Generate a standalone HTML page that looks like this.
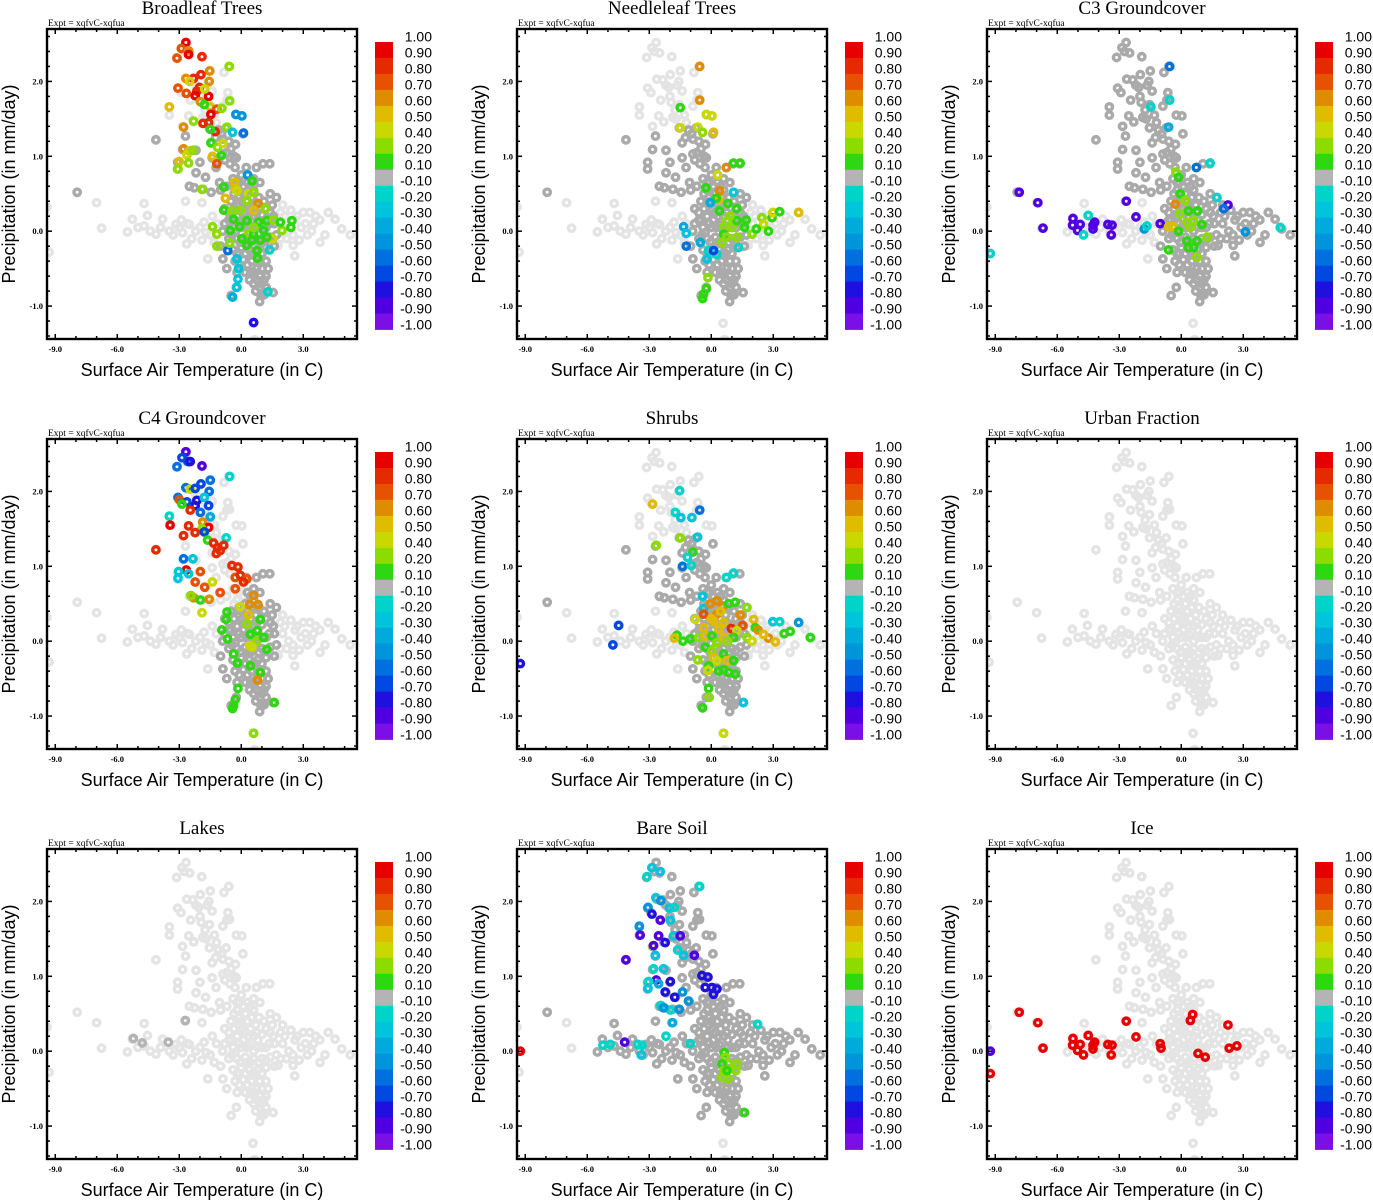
<!DOCTYPE html>
<html><head><meta charset="utf-8">
<style>
html,body{margin:0;padding:0;background:#fff;}
svg{display:block;}
</style></head>
<body>
<svg id="chart" width="1373" height="1200" viewBox="0 0 1373 1200" xmlns="http://www.w3.org/2000/svg"></svg>
<script>
// ---------- shared data ----------
const titles = ["Broadleaf Trees","Needleleaf Trees","C3 Groundcover","C4 Groundcover","Shrubs","Urban Fraction","Lakes","Bare Soil","Ice"];
const xTicks = [-9,-6,-3,0,3];
const xTickLabels = ["-9.0","-6.0","-3.0","0.0","3.0"];
const yTicks = [-1,0,1,2];
const yTickLabels = ["-1.0","0.0","1.0","2.0"];
const cbLabels = ["1.00","0.90","0.80","0.70","0.60","0.50","0.40","0.20","0.10","-0.10","-0.20","-0.30","-0.40","-0.50","-0.60","-0.70","-0.80","-0.90","-1.00"];
const cbBounds = [1,0.9,0.8,0.7,0.6,0.5,0.4,0.2,0.1,-0.1,-0.2,-0.3,-0.4,-0.5,-0.6,-0.7,-0.8,-0.9,-1];
const cbColors = ["#e60000","#e62a00","#e65200","#e08c00","#e0bc00","#c8d800","#8cdc00","#2ed810","#b4b4b4","#00d4c8","#00c4dc","#00aadc","#0094dc","#0070e0","#0048e0","#2010e0","#5000e0","#7a10e6"];

// all grid points (temperature, precipitation)
const cloud = [
[-2.67,2.52],[-2.87,2.45],[-2.5,2.38],[-3.13,2.32],[-1.91,2.33],[-0.6,2.2],[-0.84,2.12],[-1.5,2.14],[-1.98,2.09],[-2.64,2.03],[-2.35,2.02],[-1.57,2.0],[-2.06,1.92],[-3.08,1.91],[-2.92,1.85],[-2.45,1.75],[-1.94,1.72],[-1.54,1.69],[-1.41,1.87],[-0.57,1.76],[-0.89,1.67],[-3.48,1.66],[-3.48,1.55],[-2.54,1.54],[-1.86,1.52],[-0.24,1.55],[0.03,1.54],[-2.84,1.4],[-2.3,1.46],[-1.54,1.38],[-0.73,1.38],[0.08,1.3],[-1.05,2.74],
[-1.75,1.62],[-1.7,1.5],[-1.3,1.55],[-1.2,1.45],[-1.1,1.35],[-0.95,1.3],[-1.25,1.25],[-0.6,1.2],[-0.5,1.1],[-0.7,1.05],[-0.35,1.0],[-0.55,0.9],[-0.3,0.85],[-0.8,0.95],[-2.2,1.95],[-2.0,1.8],[-2.75,2.4],[-1.65,1.95],[-0.7,1.75],[-0.65,1.85],
[-4.13,1.22],[-2.7,1.27],[-1.41,1.18],[-0.89,1.23],[-0.28,1.16],[-2.84,1.09],[-2.19,1.08],[-1.41,0.98],[-0.89,1.03],[-0.24,0.98],[-3.08,0.92],[-2.0,0.92],[-3.08,0.83],[-2.19,0.78],[-1.73,0.72],[-1.22,0.85],[0.73,0.85],[1.05,0.9],[1.38,0.9],[0.24,0.85],[-2.51,0.6],[-2.27,0.58],[-1.86,0.56],[-1.46,0.52],[-1.05,0.65],
[-7.94,0.52],[-7.0,0.38],[-4.7,0.37],[-2.7,0.4],[-1.9,0.38],[1.7,0.45],[-6.76,0.04],[-5.51,-0.01],[-5.27,0.16],[-4.54,0.21],[-3.81,0.16],[-4.7,0.07],[-4.13,-0.04],[-3.48,0.0],[-3.16,0.09],[-2.84,-0.02],[-2.51,0.09],[-2.64,-0.17],[-1.62,-0.37],[-0.89,-0.37],
[-5.0,0.05],[-4.4,0.0],[-3.9,0.05],[-3.3,-0.05],[-2.0,0.05],[-1.7,-0.02],[-1.0,-0.2],[-0.8,0.1],[-1.4,0.2],[-2.9,0.15],
[3.0,0.25],[3.32,0.25],[4.21,0.25],[4.54,0.16],[4.86,0.03],[5.27,-0.05],[3.81,-0.15],[4.05,-0.05],[2.51,-0.19],[2.59,-0.33],[1.78,-0.19],[-0.49,-0.86],[-0.24,-0.75],[0.89,-0.94],[1.54,-0.82],[0.57,-1.23],[0.65,-1.45],[-9.4,0.32],[-9.3,-0.28],
[2.1,0.2],[2.7,0.2],[3.1,0.1],[3.4,0.0],[2.5,-0.05],[1.9,-0.1],[3.6,0.2],[2.0,0.35],
[-3,0.05],[-2.6,0.1],[-2.2,0.0],[-1.8,0.12],[-1.5,-0.05],[-1.2,0.1],[-0.9,0.0],[-0.6,0.15],[-2.4,-0.1],[-1.9,-0.12],[-1.3,-0.15],[2.0,0.1],[2.3,0.0],[2.6,0.15],[2.9,0.05],[3.2,-0.05],[3.5,0.1],[3.8,0.15],[2.2,-0.1],[2.8,-0.12],[1.9,0.25],[2.4,0.28],
[-0.4,0.7],[0,0.75],[0.3,0.65],[-0.2,0.55],[0.2,0.5],[0.6,0.55],[-0.5,0.4],[-0.1,0.35],[0.3,0.4],[0.7,0.35],[1.1,0.4],[-0.6,0.25],[-0.2,0.2],[0.2,0.25],[0.6,0.2],[1.0,0.22],[1.4,0.25],[-0.4,0.05],[0,0.05],[0.4,0.08],[0.8,0.05],[1.2,0.05],[1.6,0.1],[-0.6,-0.1],[-0.2,-0.1],[0.2,-0.08],[0.6,-0.1],[1.0,-0.1],[1.4,-0.08],[-0.4,-0.25],[0,-0.22],[0.4,-0.25],[0.8,-0.25],[1.2,-0.22],[-0.3,-0.4],[0.1,-0.38],[0.5,-0.4],[0.9,-0.4],[1.2,-0.4],[-0.2,-0.55],[0.2,-0.55],[0.6,-0.55],[0.9,-0.6],[1.2,-0.6],[0.6,-0.7],[0.9,-0.75],[1.2,-0.75],[-0.8,0.3],[-1.0,0.55],[-0.7,0.6],[0.9,0.65],[1.4,0.5],
[-0.1,0.45],[0.45,0.3],[0.1,0.15],[0.8,0.15],[-0.3,-0.02],[0.3,-0.15],[0.7,-0.3],[1.0,-0.5],[0.4,-0.65],[1.1,-0.85],[-0.7,-0.5],[-0.1,-0.3],[1.7,-0.05],[1.5,0.35],
[-0.2,0.65],[0.1,0.6],[0.45,0.6],[-0.35,0.5],[0.0,0.4],[0.5,0.45],[0.85,0.45],[-0.35,0.3],[0.05,0.3],[0.35,0.2],[0.75,0.25],[1.2,0.3],[-0.5,0.15],[-0.1,0.1],[0.25,0.05],[0.6,0.0],[1.0,0.05],[1.35,0.1],[-0.45,-0.05],[-0.05,-0.15],[0.45,-0.15],[0.85,-0.15],[1.2,-0.12],[-0.2,-0.3],[0.2,-0.3],[0.55,-0.3],[1.0,-0.3],[-0.1,-0.45],[0.3,-0.45],[0.75,-0.5],[1.1,-0.65],[0.75,-0.65],[0.45,-0.55],[1.0,-0.7],[0.7,-0.8],[0.95,-0.85],[1.3,-0.5],[-0.1,0.65],[0.6,0.7],[1.55,0.2],[1.6,-0.2]
];

// which cloud regions show as dark grey (|value| < 0.1) in each panel
const darkRegions = [
 ["core","armLo"],
 ["core","armLo"],
 ["armHi","armLo","core","bandE"],
 ["core"],
 ["core","armLo"],
 [],
 [],
 ["armHi","armLo","core","bandE","bandW"],
 []
];

// coloured points per panel: [temperature, precipitation, value]
const broadleaf = [
[-2.68,2.52,0.95],[-2.9,2.44,0.75],[-2.55,2.41,0.6],[-2.55,2.36,0.9],[-3.11,2.31,0.75],[-1.9,2.33,0.85],[-1.53,2.14,0.6],[-1.95,2.09,0.85],[-2.31,2.04,0.8],[-2.68,2.04,0.65],[-1.55,2.0,0.65],[-2.02,1.92,0.85],[-3.06,1.91,0.75],[-2.15,1.87,0.8],[-2.66,1.84,0.75],[-2.23,1.81,0.9],[-1.58,1.8,0.95],[-1.98,1.73,0.65],[-1.5,1.66,0.55],[-1.18,1.63,0.75],[-1.47,1.56,0.95],[-1.85,1.44,0.8],[-1.58,1.45,0.8],[-1.26,1.33,0.8],[-3.48,1.66,0.5],[-2.79,1.39,0.6],[-2.79,1.1,0.65],[-2.52,1.07,0.55],[-2.63,1.02,0.45],[-3.0,0.93,0.55],[-3.06,0.83,0.3],[-2.55,0.91,0.2],[-2.35,1.08,0.3],[-1.39,1.0,0.55],[-1.18,0.9,0.75],[-0.97,1.01,0.15],[-1.47,1.18,0.15],[-1.15,1.12,0.3],[-0.89,1.17,0.45],[-0.69,1.39,0.3],[-0.58,2.2,0.3],[-0.56,1.74,0.3],[-0.94,1.64,0.2],[-2.31,1.47,0.3],[-1.79,1.69,0.15],[-1.5,1.36,0.15],[-1.77,1.9,0.45],[-2.5,2.0,0.45],
[-0.26,1.56,-0.5],[0.03,1.54,-0.5],[0.11,1.31,-0.6],[-0.42,1.32,-0.3],[0.31,0.75,-0.5],[0.52,0.67,0.15],[-0.21,-0.37,-0.3],[-0.65,-0.26,-0.6],[-0.13,-0.5,-0.3],[-0.16,-0.64,-0.3],[-0.21,-0.75,-0.3],[-0.42,-0.88,-0.4],[1.29,-0.81,-0.2],[1.37,-0.25,-0.2],[0.6,-1.22,-0.8],
[-0.32,0.65,0.5],[-0.29,0.57,0.5],[-0.21,0.54,0.4],[-0.85,0.59,0.15],[-1.9,0.56,0.3],[-0.77,0.44,0.5],[0.35,0.5,0.4],[0.6,0.52,0.3],[0.27,0.41,0.3],[0.81,0.37,0.65],[-0.85,0.28,0.15],[-0.45,0.27,0.2],[-0.05,0.28,0.3],[0.6,0.28,0.5],[1.16,0.3,0.3],[0.27,0.14,0.15],[0.84,0.12,0.15],[1.24,0.14,0.15],[1.56,0.15,0.3],[1.97,0.01,0.3],[2.45,0.14,0.15],[2.4,0.05,0.15],[1.89,0.12,0.15],[-0.08,0.06,0.15],[-0.53,0.01,0.15],[-1.39,0.06,0.3],[-1.18,-0.04,0.3],[0.35,-0.04,0.3],[0.6,-0.04,0.15],[1.08,0.01,0.15],[0.92,-0.12,0.15],[1.52,-0.1,0.4],[0.27,-0.19,0.15],[0.76,-0.26,0.15],[0.79,-0.36,0.15],[-0.56,-0.16,0.3],[-1.18,-0.2,0.2],[0.03,-0.1,0.15],[0.52,-0.12,0.15],[1.24,-0.08,0.15],[0.6,0.05,0.2],[-0.37,0.16,0.15]
];
const needleleaf = [
[-0.56,2.2,0.6],[-0.56,1.75,0.6],[-1.5,1.65,0.15],[-1.5,1.38,0.45],[-0.65,1.39,0.45],[-0.42,1.32,0.3],[-0.24,1.56,0.45],[0.03,1.54,0.45],[0.11,1.32,0.55],[0.73,0.85,0.6],[1.08,0.91,0.15],[1.4,0.91,0.15],[0.31,0.75,0.45],[-0.26,0.58,0.15],[0.4,0.54,0.6],[0.35,0.42,0.5],[0.24,0.44,0.15],[1.08,0.52,-0.3],[0.81,0.37,0.15],[1.24,0.3,0.15],[0.39,0.27,0.15],[-0.05,0.38,-0.35],
[0.76,0.14,0.3],[0.6,0.05,0.3],[1.0,0.05,0.3],[1.24,0.14,0.15],[1.69,0.15,0.15],[1.61,0.05,0.15],[1.97,-0.04,0.3],[2.45,0.18,0.3],[2.53,0.09,0.45],[2.77,0.0,0.15],[2.18,0.03,0.15],[2.94,0.18,0.15],[2.98,0.25,0.45],[3.31,0.26,0.15],[4.23,0.25,0.55],[1.24,-0.08,0.3],[0.6,-0.04,0.15],[0.76,-0.08,0.3],[0.9,0.2,0.3],[0.5,-0.15,0.3],
[-1.34,0.06,-0.4],[-1.21,-0.03,-0.3],[-1.21,-0.2,-0.6],[-0.53,-0.15,-0.4],[-0.13,-0.26,-0.2],[0.27,-0.31,-0.2],[-0.21,-0.37,-0.3],[1.32,-0.22,-0.2],[0.11,-0.26,-0.7],
[-0.16,-0.62,0.3],[-0.24,-0.77,0.15],[-0.37,-0.84,0.15],[-0.42,-0.9,0.15]
];
const c3 = [
[-7.84,0.52,-0.9],[-6.94,0.38,-0.9],[-6.69,0.04,-0.9],[-5.24,0.17,-0.9],[-5.26,0.08,-0.9],[-5.02,0.01,-0.9],[-4.89,0.09,-0.9],[-4.27,0.08,-0.9],[-4.27,0.03,-0.9],[-4.19,0.12,-0.9],[-3.55,0.09,-0.9],[-3.35,0.08,-0.9],[-3.39,-0.05,-0.9],[-2.66,0.4,-0.9],[-2.19,0.19,-0.9],[-1.02,0.1,-0.9],[-4.73,-0.05,-0.2],[-4.5,0.21,-0.2],[-9.24,-0.3,-0.2],
[-0.56,2.2,-0.6],[-0.56,1.75,-0.2],[-1.47,1.66,-0.2],[-0.61,1.39,-0.4],[0.73,0.85,-0.6],[1.4,0.91,-0.2],[1.73,0.45,-0.2],[2.26,0.35,-0.9],[2.05,0.3,-0.6],[3.1,-0.01,-0.5],[4.79,0.05,-0.2],[-1.79,0.03,-0.5],[-1.66,0.07,-0.2],
[-0.26,0.79,0.3],[-0.13,0.72,0.15],[-0.05,0.5,0.15],[-0.29,0.36,0.65],[0.19,0.41,0.3],[-0.08,0.23,0.3],[0.35,0.27,0.15],[0.79,0.27,0.15],[-0.61,0.06,0.5],[-0.37,0.06,0.5],[0.27,0.12,0.3],[0.6,0.14,0.3],[1.0,0.09,0.15],[-0.13,0.0,0.15],[0.44,0.05,0.3],[0.27,-0.13,0.15],[0.76,-0.13,0.15],[0.6,-0.22,0.15],[0.35,-0.22,0.15],[0.76,-0.35,0.3],[1.24,-0.08,0.3],[-0.61,-0.25,0.15]
];
const c4 = [
[-2.68,2.53,-0.9],[-2.87,2.45,-0.7],[-2.58,2.4,-0.7],[-2.47,2.4,-0.75],[-3.11,2.33,-0.6],[-1.9,2.34,-0.9],[-0.56,2.2,-0.2],[-1.5,2.15,-0.6],[-1.95,2.1,-0.7],[-2.68,2.05,-0.6],[-2.47,2.03,0.45],[-2.23,2.04,-0.7],[-1.55,2.0,-0.6],[-3.06,1.92,-0.6],[-3.0,1.89,0.75],[-2.63,1.86,-0.7],[-2.87,1.83,0.15],[-2.15,1.88,-0.75],[-1.79,1.92,-0.3],[-2.23,1.81,-0.8],[-1.58,1.81,-0.7],[-2.47,1.75,0.85],[-1.98,1.72,-0.6],[-3.48,1.67,-0.2],[-1.5,1.66,-0.4],[-1.87,1.59,0.65],[-3.44,1.55,0.9],[-2.55,1.54,0.85],[-1.58,1.52,0.9],[-1.9,1.5,0.3],[-1.79,1.46,-0.7],[-2.23,1.45,0.85],[-2.79,1.41,0.85],[-0.73,1.38,-0.2],[-1.63,1.35,0.15],[-1.34,1.31,0.8],[-1.15,1.25,0.85],[-0.85,1.28,0.8],[-1.02,1.21,0.8],[-1.21,1.17,0.8],[-4.13,1.22,0.85],[-2.79,1.1,-0.6],[-2.34,1.1,-0.3],[-2.66,0.95,0.9],[-3.03,0.93,-0.3],[-2.55,0.9,-0.3],[-3.06,0.84,-0.3],[-1.98,0.93,0.7],
[-0.45,1.01,0.85],[-0.16,0.99,0.85],[-0.29,0.85,0.75],[-0.05,0.88,0.85],[0.27,0.83,0.7],[0.11,0.79,0.8],[-0.29,0.7,0.75],[-2.23,0.79,0.7],[-1.77,0.72,0.7],[-1.4,0.79,0.4],[-1.02,0.65,0.75],[-2.31,0.58,0.6],[-2.44,0.61,0.3],[-1.98,0.55,0.15],[-1.55,0.56,0.65],[-1.9,0.38,0.4],[0.6,0.61,0.6],[0.4,0.49,0.6],[-0.05,0.46,0.45],[0.81,0.49,0.6],[0.35,0.35,0.55],
[-0.69,0.39,0.15],[-0.73,0.29,0.15],[-0.94,0.15,0.15],[-0.66,0.03,0.15],[0.92,0.29,0.15],[0.27,0.23,0.3],[0.76,0.14,0.15],[0.44,0.09,0.15],[0.76,0.0,0.3],[0.4,-0.06,0.4],[0.52,-0.08,0.45],[1.08,0.05,0.15],[1.24,-0.11,0.15],[-0.37,-0.17,0.15],[-0.18,-0.29,0.15],[0.44,-0.33,0.15],[0.92,-0.42,0.15],[0.79,-0.52,0.6],[-0.16,-0.63,0.15],[-0.29,-0.78,0.15],[-0.37,-0.86,0.15],[-0.42,-0.9,0.15],[1.6,-0.82,0.15],[0.6,-1.23,0.3]
];
const shrubs = [
[-2.84,1.83,0.55],[-1.53,2.01,-0.2],[-1.74,1.72,-0.2],[-1.47,1.65,-0.3],[-0.94,1.65,-0.3],[-0.56,1.75,-0.6],[-2.66,1.28,0.3],[-1.5,1.38,0.3],[-0.66,1.39,-0.3],[-0.89,1.19,0.15],[-1.15,1.12,-0.2],[-1.39,1.0,-0.6],[-0.97,1.01,-0.2],[0.73,0.85,-0.2],[1.08,0.91,-0.2],[-0.42,0.6,-0.3],[-0.37,0.44,-0.3],[-4.48,0.21,-0.7],[-4.76,-0.05,-0.7],[-9.24,-0.3,-0.8],[4.23,0.25,-0.5],[2.98,0.26,-0.3],[3.31,0.26,-0.2],[4.79,0.05,0.15],[3.53,0.1,0.15],[3.82,0.13,0.15],
[-0.05,0.5,0.6],[0.27,0.54,0.6],[0.56,0.47,0.6],[-0.37,0.36,0.75],[0.27,0.36,0.6],[0.84,0.5,0.15],[1.16,0.52,0.15],[1.73,0.45,0.3],[1.4,0.35,0.65],[-0.77,0.29,0.45],[0.11,0.27,0.5],[0.6,0.25,0.5],[-0.37,0.18,0.5],[0.35,0.16,0.5],[0.97,0.17,0.85],[1.52,0.21,0.75],[1.24,0.14,0.45],[2.05,0.29,0.5],[2.13,0.18,0.15],[2.26,0.15,0.65],[2.77,0.04,0.6],[3.1,-0.01,0.55],[2.53,0.09,0.5],[-1.66,0.08,0.15],[-1.37,0.0,0.15],[-1.79,0.04,0.55],[-1.02,0.03,0.15],[-0.61,0.05,0.3],[-0.29,0.07,0.5],[0.03,0.07,0.15],[0.27,-0.02,0.3],[0.6,0.05,0.5],[1.08,0.05,0.15],[1.73,0.05,0.3],[1.97,0.0,0.4],[-0.29,-0.08,0.15],[0.03,-0.13,0.35],[0.11,-0.22,0.5],[0.27,-0.26,0.45],[0.6,-0.17,0.15],[0.76,-0.26,0.5],[1.08,-0.26,0.15],[-0.65,-0.25,0.3],[-0.13,-0.33,0.15],[-0.16,-0.39,0.45],[0.6,-0.38,0.15],[0.84,-0.42,0.15],[1.16,-0.44,0.15],[0.35,-0.4,0.15],[-0.13,-0.63,0.15],[-0.1,-0.75,0.3],[-0.42,-0.89,0.15],[1.56,-0.82,-0.3],[0.6,-1.23,0.45],[0.45,0.4,0.55],[0.0,0.3,0.5],[0.8,0.0,0.3]
];
const urban = [];
const lakes = [[-5.22,0.17,0.0],[-4.79,0.11,0.0],[-3.53,0.12,0.0],[-2.71,0.41,0.0]];
const bareSoil = [
[-2.87,2.45,-0.25],[-2.47,2.4,-0.25],[-3.11,2.33,-0.2],[-0.56,2.2,-0.2],[-2.68,2.05,-0.3],[-2.44,2.01,-0.45],[-3.06,1.92,-0.45],[-2.87,1.83,-0.8],[-2.02,1.91,-0.3],[-1.79,1.92,-0.2],[-2.47,1.75,-0.85],[-1.98,1.75,-0.25],[-3.48,1.67,-0.45],[-3.44,1.55,-0.85],[-2.55,1.54,-0.9],[-1.82,1.54,-0.25],[-2.23,1.45,-0.8],[-1.5,1.54,-0.85],[-2.79,1.41,-0.85],[-2.71,1.28,-0.3],[-1.63,1.35,-0.2],[-0.82,1.28,-0.85],[-1.34,1.28,-0.3],[-4.13,1.22,-0.85],[-2.79,1.1,-0.2],[-2.31,1.1,-0.3],[-2.66,0.95,-0.85],[-3.03,0.93,-0.2],[-2.55,0.9,-0.4],[-3.06,0.84,-0.3],[-1.98,0.93,-0.8],
[-0.45,1.01,-0.8],[-0.16,0.99,-0.8],[-0.29,0.85,-0.8],[0.03,0.85,-0.8],[0.27,0.83,-0.75],[0.11,0.76,-0.8],[-1.39,0.79,-0.45],[-2.23,0.79,-0.8],[-1.77,0.72,-0.8],[-1.1,0.67,-0.5],[-2.44,0.61,-0.2],[-1.98,0.55,-0.2],[-2.31,0.58,-0.5],[-1.55,0.56,-0.5],[-1.87,0.38,-0.4],[2.24,0.36,-0.2],[-2.19,0.2,-0.2],[-5.24,0.08,-0.2],[-4.89,0.09,-0.2],[-3.55,0.09,-0.2],[-3.35,0.08,-0.2],[-3.39,-0.05,-0.25],[-4.19,0.12,-0.85],[-9.24,0.0,0.9],[-1.02,0.1,-0.2],
[0.63,-0.02,0.15],[0.68,-0.08,0.3],[0.84,-0.17,0.3],[1.24,-0.17,0.35],[0.52,-0.17,0.15],[0.6,-0.26,0.3],[1.19,-0.26,0.3],[0.52,-0.35,0.3],[0.81,-0.37,0.35],[1.61,-0.82,0.15],[0.76,-0.26,0.15]
];
const ice = [
[-7.84,0.52,0.95],[-6.94,0.38,0.95],[-6.69,0.04,0.95],[-5.24,0.17,0.95],[-5.26,0.08,0.95],[-5.02,0.01,0.95],[-4.89,0.09,0.95],[-4.73,-0.05,0.95],[-4.5,0.21,0.95],[-4.27,0.08,0.95],[-4.27,0.03,0.95],[-4.19,0.12,0.95],[-3.55,0.09,0.95],[-3.35,0.08,0.95],[-3.39,-0.05,0.95],[-2.66,0.4,0.95],[-2.19,0.19,0.95],[-1.02,0.1,0.95],[-0.98,0.04,0.95],[0.44,0.41,0.95],[0.55,0.49,0.95],[0.81,-0.03,0.95],[1.16,-0.08,0.95],[2.26,0.35,0.95],[2.32,0.04,0.95],[2.69,0.07,0.95],[-9.24,-0.3,0.95],[-9.24,0.0,-0.9]
];
const panelPoints = [broadleaf,needleleaf,c3,c4,shrubs,urban,lakes,bareSoil,ice];

// ---------- layout ----------
const NS = "http://www.w3.org/2000/svg";
const svg = document.getElementById("chart");
const PL = 47, PT = 29, PR = 357, PB = 339;
const XMIN = -9.4, XMAX = 5.6, YMIN = -1.44, YMAX = 2.70;
const MR = 3.2, MW = 3.4;
function el(tag, attrs, parent) {
  const e = document.createElementNS(NS, tag);
  for (const k in attrs) e.setAttribute(k, attrs[k]);
  parent.appendChild(e);
  return e;
}
function regionOf(t, p) {
  if (p >= 1.4) return "armHi";
  if (p >= 0.5 && t < 0.2) return "armLo";
  if (t >= -1.1 && t <= 1.7 && p > -1.0) return "core";
  if (t > 1.7 && t < 5.5) return "bandE";
  if (t <= -1.1 && t > -6) return "bandW";
  return "outer";
}
function colorFor(v) {
  for (let i = 0; i < cbColors.length; i++) {
    if (v <= cbBounds[i] && v >= cbBounds[i + 1]) return cbColors[i];
  }
  return v > 0 ? cbColors[0] : cbColors[cbColors.length - 1];
}

titles.forEach((title, idx) => {
  const col = idx % 3, row = Math.floor(idx / 3);
  const g = el("g", {transform: `translate(${col * 470},${row * 410})`}, svg);
  
  
  const sx = t => PL + (t - XMIN) / (XMAX - XMIN) * (PR - PL);
  const sy = p => PB - (p - YMIN) / (YMAX - YMIN) * (PB - PT);

  const tt = el("text", {x: 202, y: 14, "text-anchor": "middle", "font-family": "Liberation Serif, serif", "font-size": 19, fill: "#000"}, g);
  tt.textContent = title;
  
  

  const ex = el("text", {x: 48, y: 26, "font-family": "Liberation Serif, serif", "font-size": 9.5, fill: "#000"}, g);
  ex.textContent = "Expt = xqfvC-xqfua";
  
  

  const clipId = "clip" + idx;
  const cp = el("clipPath", {id: clipId}, g);
  el("rect", {x: PL, y: PT, width: PR - PL, height: PB - PT}, cp);
  const pts = el("g", {"clip-path": `url(#${clipId})`}, g);
  
  

  const dark = darkRegions[idx];
  cloud.forEach(([t, p]) => {
    const c = el("circle", {cx: sx(t), cy: sy(p), r: MR, fill: "none", stroke: "#e4e4e4", "stroke-width": MW}, pts);
    
    
  });
  cloud.forEach(([t, p]) => {
    if (dark.indexOf(regionOf(t, p)) < 0) return;
    const c = el("circle", {cx: sx(t), cy: sy(p), r: MR, fill: "none", stroke: "#aaaaaa", "stroke-width": MW}, pts);
    
    
  });
  panelPoints[idx].forEach(([t, p, v]) => {
    const c = el("circle", {cx: sx(t), cy: sy(p), r: MR, fill: "none", stroke: colorFor(v), "stroke-width": MW}, pts);
    
    
  });

  const fr = el("rect", {x: PL, y: PT, width: PR - PL, height: PB - PT, fill: "none", stroke: "#000", "stroke-width": 2.4}, g);
  
  

  const tk = el("g", {stroke: "#000", "stroke-width": 1.5}, g);
  
  
  for (let t = -9; t <= 5; t++) {
    const x = sx(t), L = (t % 3 === 0) ? 5 : 3;
    el("line", {x1: x, y1: PB, x2: x, y2: PB - L}, tk);
    el("line", {x1: x, y1: PT, x2: x, y2: PT + L}, tk);
  }
  for (let k = -7; k <= 13; k++) {
    const p = k * 0.2, y = sy(p), L = (k % 5 === 0) ? 5 : 3;
    el("line", {x1: PL, y1: y, x2: PL + L, y2: y}, tk);
    el("line", {x1: PR, y1: y, x2: PR - L, y2: y}, tk);
  }
  xTicks.forEach((t, i) => {
    const tx = el("text", {x: sx(t), y: 352, "text-anchor": "middle", "font-family": "Liberation Serif, serif", "font-weight": "bold", "font-size": 8.5, fill: "#000"}, g);
    tx.textContent = xTickLabels[i];
    
    
  });
  yTicks.forEach((p, i) => {
    const tx = el("text", {x: 43, y: sy(p) + 3, "text-anchor": "end", "font-family": "Liberation Serif, serif", "font-weight": "bold", "font-size": 8.5, fill: "#000"}, g);
    tx.textContent = yTickLabels[i];
    
    
  });
  const xt = el("text", {x: 202, y: 376, "text-anchor": "middle", "font-family": "Liberation Sans, sans-serif", "font-size": 18, fill: "#000"}, g);
  xt.textContent = "Surface Air Temperature (in C)";
  
  
  const yt = el("text", {x: 0, y: 0, transform: "translate(15,184) rotate(-90)", "text-anchor": "middle", "font-family": "Liberation Sans, sans-serif", "font-size": 18, fill: "#000"}, g);
  yt.textContent = "Precipitation (in mm/day)";
  
  

  const cb = el("g", {}, g);
  
  
  const cbTop = 42, cbH = 287.5 / cbColors.length;
  cbColors.forEach((c, i) => {
    const r = el("rect", {x: 375, y: cbTop + i * cbH, width: 18, height: cbH + 0.4, fill: c}, cb);
    
    
  });
  cbLabels.forEach((lab, i) => {
    const tx = el("text", {x: 432, y: 36.7 + i * (287.6 / (cbLabels.length - 1)) + 5, "text-anchor": "end", "font-family": "Liberation Sans, sans-serif", "font-size": 14, fill: "#000"}, cb);
    tx.textContent = lab;
    
    
  });
});
</script>
</body></html>
